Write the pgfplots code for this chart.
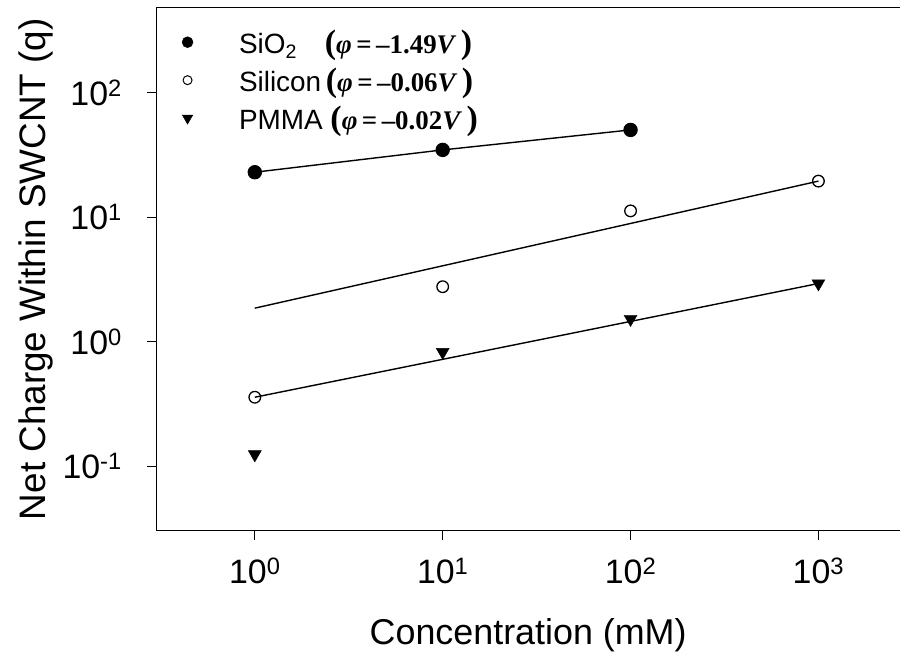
\documentclass[border=0pt]{standalone}
\usepackage{fontspec}
\setmainfont{Liberation Sans}
\newfontfamily\tnr{Liberation Serif}
\usepackage{pgfplots}
\pgfplotsset{compat=1.18}
\newcommand\pw[1]{10\textsuperscript{#1}}
\newcommand\phiV[1]{{\tnr\bfseries\fontsize{34}{34}\selectfont(\fontsize{27}{27}\selectfont\textit{φ}\,=\,\textendash#1\textit{V}\,\fontsize{34}{34}\selectfont)}}
\begin{document}
\begin{tikzpicture}
\begin{axis}[
  scale only axis, width=743.7bp, height=523.2bp,
  xmode=log, ymode=log,
  xmin=0.299, xmax=2718, ymin=0.0305, ymax=486,
  axis x line*=box, axis y line*=left,
  axis line style={line width=1.3bp, black},
  xtick={1,10,100,1000}, ytick={0.1,1,10,100},
  xticklabels={\pw{0},\pw{1},\pw{2},\pw{3}},
  yticklabels={\pw{-1},\pw{0},\pw{1},\pw{2}},
  xminorticks=false, yminorticks=false,
  xtick pos=bottom, ytick pos=left,
  tick align=outside, major tick length=9bp,
  every tick/.style={line width=1bp, black},
  ticklabel style={font=\fontsize{34}{40}\selectfont},
  xticklabel style={yshift=-15bp},
  yticklabel style={xshift=-22bp},
  xlabel={Concentration (mM)},
  ylabel={Net Charge Within SWCNT (q)},
  xlabel style={font=\fontsize{36}{40}\selectfont, yshift=-28bp},
  ylabel style={font=\fontsize{37}{40}\selectfont, at={(axis description cs:-0.1618,0.5)}, anchor=center},
  legend cell align=left,
  legend style={draw=none, fill=none, at={(axis cs:0.38,486)}, anchor=north west,
    font=\fontsize{28}{30}\selectfont, row sep=9bp, inner xsep=6bp, inner ysep=20bp},
]
\addlegendimage{only marks, mark=*, mark size=5.5bp, black}
\addlegendentry{\hspace{44bp}SiO\textsubscript{2}\hspace{28bp}\phiV{1.49}}
\addlegendimage{only marks, mark=o, mark size=4.5bp, black, line width=1bp}
\addlegendentry{\hspace{44bp}Silicon\,\phiV{0.06}}
\addlegendimage{only marks, mark=triangle*, mark size=6bp, black, mark options={rotate=180}}
\addlegendentry{\hspace{44bp}PMMA \phiV{0.02}}

% SiO2 data and connecting line
\addplot[black, line width=1.4bp, mark=*, mark size=6.5bp, forget plot] coordinates {(1,23.1) (10,34.9) (100,50.5)};
% Silicon fit line
\addplot[black, line width=1.4bp, forget plot] coordinates {(1,1.87) (1000,19.6)};
% PMMA fit line
\addplot[black, line width=1.4bp, forget plot] coordinates {(1,0.36) (1000,2.95)};
% Silicon data
\addplot[only marks, mark=o, mark size=5.8bp, line width=1.3bp, black, fill=white, forget plot] coordinates {(1,0.36) (10,2.78) (100,11.3) (1000,19.6)};
% PMMA data
\addplot[only marks, mark=triangle*, mark size=7.5bp, black, mark options={rotate=180}, forget plot] coordinates {(1,0.125) (10,0.83) (100,1.53) (1000,2.95)};
\end{axis}
\pgfresetboundingbox
\path[use as bounding box] ([xshift=-156.3bp,yshift=-127.3bp]current axis.south west) rectangle ([yshift=7.5bp]current axis.north east);
\end{tikzpicture}
\end{document}
